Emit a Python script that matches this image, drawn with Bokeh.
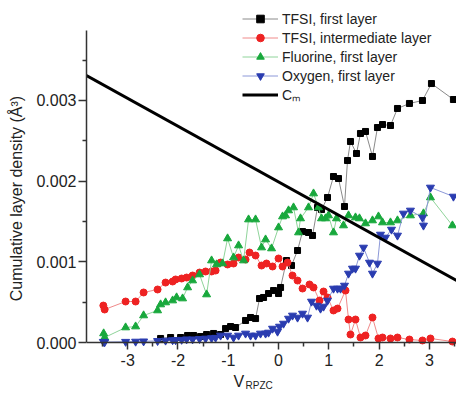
from bokeh.plotting import figure
from bokeh.models import Range1d, FixedTicker, Legend, LegendItem, Label, NumeralTickFormatter
from bokeh.embed import file_html
from bokeh.resources import INLINE

# ---------- data (densities in units of 1e-3 A^-3) ----------
tfsi1_x = [-2.346, -2.147, -1.948, -1.809, -1.690, -1.551, -1.431, -1.292, -1.153, -1.054,
           -0.954, -0.855, -0.656, -0.557, -0.457, -0.378, -0.298, -0.199, -0.099, 0.000,
           0.040, 0.159, 0.258, 0.378, 0.477, 0.596, 0.676, 0.775, 0.855, 0.974,
           1.093, 1.193, 1.312, 1.372, 1.431, 1.551, 1.630, 1.730, 1.869, 1.968,
           2.068, 2.227, 2.366, 2.604, 2.863, 3.042, 3.479]
tfsi1_y = [0.050, 0.062, 0.062, 0.087, 0.087, 0.074, 0.099, 0.112, 0.099, 0.173,
           0.198, 0.186, 0.273, 0.310, 0.297, 0.545, 0.558, 0.607, 0.644, 0.607,
           0.682, 1.016, 0.954, 1.140, 1.375, 1.363, 1.326, 1.673, 1.648, 1.797,
           2.057, 2.032, 1.685, 2.255, 2.491, 2.342, 2.590, 2.615, 2.305, 2.664,
           2.701, 2.689, 2.900, 2.962, 2.999, 3.209, 3.011]

tfsi_int_x = [-3.485, -3.459, -3.042, -2.843, -2.684, -2.406, -2.247, -2.107, -2.048, -1.928,
              -1.829, -1.710, -1.571, -1.451, -1.332, -1.252, -1.153, -1.014, -0.895, -0.795,
              -0.656, -0.577, -0.457, -0.338, -0.239, -0.119, 0.000, 0.080, 0.179, 0.278,
              0.378, 0.477, 0.616, 0.696, 0.815, 0.895, 0.974, 1.093, 1.173, 1.332,
              1.392, 1.431, 1.531, 1.630, 1.730, 1.869, 1.988, 2.068, 2.227, 2.366,
              2.604, 2.863, 3.022, 3.459]
tfsi_int_y = [0.458, 0.409, 0.508, 0.508, 0.620, 0.657, 0.743, 0.756, 0.781, 0.793,
              0.805, 0.830, 0.867, 0.880, 0.880, 0.892, 0.991, 0.967, 0.979, 1.053,
              1.029, 1.115, 1.078, 0.954, 0.979, 0.942, 1.041, 0.942, 0.991, 0.830,
              0.768, 0.669, 0.719, 0.682, 0.520, 0.632, 0.558, 0.397, 0.421, 0.644,
              0.285, 0.099, 0.285, 0.062, 0.087, 0.310, 0.050, 0.062, 0.050, 0.062,
              0.037, 0.025, 0.050, 0.012]

fluor_x = [-3.479, -3.459, -3.042, -2.843, -2.684, -2.406, -2.346, -2.247, -2.107, -2.028,
           -1.909, -1.809, -1.710, -1.571, -1.431, -1.332, -1.233, -1.113, -1.014, -0.895,
           -0.795, -0.696, -0.596, -0.457, -0.338, -0.258, -0.139, 0.000, 0.080, 0.139,
           0.199, 0.298, 0.398, 0.437, 0.596, 0.696, 0.795, 0.855, 0.934, 0.994,
           1.093, 1.153, 1.292, 1.392, 1.531, 1.610, 1.730, 1.869, 1.988, 2.068,
           2.227, 2.366, 2.624, 2.883, 3.022, 3.459]
fluor_y = [0.112, 0.062, 0.186, 0.198, 0.335, 0.397, 0.471, 0.496, 0.520, 0.558,
           0.545, 0.682, 0.768, 0.843, 0.595, 1.016, 0.967, 0.979, 1.289, 1.053,
           1.202, 1.016, 1.524, 1.524, 1.177, 1.276, 1.165, 1.425, 1.561, 1.574,
           1.636, 1.673, 1.363, 1.537, 1.673, 1.846, 1.673, 1.537, 1.537, 1.574,
           1.363, 1.537, 1.450, 1.574, 1.549, 1.537, 1.475, 1.512, 1.561, 1.487,
           1.487, 1.512, 1.574, 1.599, 1.797, 1.450]

oxy_x = [-3.485, -3.459, -3.042, -2.843, -2.684, -2.406, -2.247, -2.107, -2.048, -1.928,
         -1.829, -1.710, -1.571, -1.451, -1.332, -1.252, -1.153, -1.014, -0.895, -0.795,
         -0.656, -0.557, -0.457, -0.358, -0.258, -0.199, -0.119, -0.020, 0.020, 0.099,
         0.199, 0.278, 0.378, 0.477, 0.577, 0.656, 0.755, 0.835, 0.895, 0.974,
         1.093, 1.173, 1.233, 1.312, 1.392, 1.471, 1.531, 1.610, 1.690, 1.809,
         1.869, 1.968, 2.028, 2.127, 2.247, 2.366, 2.485, 2.624, 2.863, 2.883,
         3.022, 3.479]
oxy_y = [0.010, 0.005, 0.010, 0.012, 0.015, 0.020, 0.025, 0.030, 0.030, 0.035,
         0.040, 0.040, 0.045, 0.050, 0.055, 0.060, 0.087, 0.087, 0.062, 0.087,
         0.112, 0.087, 0.087, 0.112, 0.112, 0.124, 0.173, 0.136, 0.198, 0.235,
         0.297, 0.335, 0.310, 0.359, 0.310, 0.508, 0.458, 0.421, 0.446, 0.520,
         0.669, 0.669, 0.669, 0.706, 0.855, 0.917, 0.917, 1.078, 1.177, 0.991,
         0.855, 0.979, 1.338, 1.301, 1.400, 1.326, 1.599, 1.636, 1.549, 1.450,
         1.921, 1.809]

cm_x = [-3.82, 3.54]
cm_y = [3.309, 0.768]

x_ticks = [-3, -2, -1, 0, 1, 2, 3]
x_tick_labels = ["-3", "-2", "-1", "0", "1", "2", "3"]
x_minor = [-3.5, -2.5, -1.5, -0.5, 0.5, 1.5, 2.5, 3.5]
y_ticks = [0.0, 0.001, 0.002, 0.003]
y_minor = [0.0005, 0.0015, 0.0025, 0.0035]

S = 1e-3
FONT = "Liberation Sans"
TXT = "#222222"

# frame spans the whole figure height; x axis pinned at y=0, y axis bounded
p = figure(width=456, height=396, output_backend="svg", toolbar_location=None,
           x_range=Range1d(-3.82, 3.54), y_range=Range1d(-0.000669, 0.004238),
           min_border_left=86, min_border_right=0, min_border_top=0, min_border_bottom=0)
p.outline_line_color = None
p.xgrid.visible = False
p.ygrid.visible = False
p.background_fill_color = "white"
p.border_fill_color = "white"

for ax in (p.xaxis[0], p.yaxis[0]):
    ax.axis_line_color = "#333333"
    ax.axis_line_width = 1.5
    ax.major_tick_line_color = "#333333"
    ax.minor_tick_line_color = "#333333"
    ax.major_tick_line_width = 1.5
    ax.minor_tick_line_width = 1.5
    ax.major_tick_in = 0
    ax.minor_tick_in = 0
    ax.major_label_text_font = FONT
    ax.major_label_text_font_size = "16px"
    ax.major_label_text_color = TXT

xa = p.xaxis[0]
xa.fixed_location = 0
xa.ticker = FixedTicker(ticks=x_ticks, minor_ticks=x_minor)
xa.major_label_overrides = {t: s for t, s in zip(x_ticks, x_tick_labels)}
xa.major_tick_out = 7
xa.minor_tick_out = 4
xa.major_label_standoff = 4

ya = p.yaxis[0]
ya.bounds = (0, 0.00387)
ya.ticker = FixedTicker(ticks=y_ticks, minor_ticks=y_minor)
ya.formatter = NumeralTickFormatter(format="0.000")
ya.major_tick_out = 8
ya.minor_tick_out = 4
ya.major_label_standoff = 2
ya.axis_label = "Cumulative layer density (Å³)"
ya.axis_label_text_font = FONT
ya.axis_label_text_font_size = "16px"
ya.axis_label_text_font_style = "normal"
ya.axis_label_text_color = TXT
ya.axis_label_standoff = 8

def sc(v):
    return [a * S for a in v]

l1 = p.line(tfsi1_x, sc(tfsi1_y), line_color="#8a8a8a", line_width=1)
m1 = p.scatter(tfsi1_x, sc(tfsi1_y), marker="square", size=6, color="black")
l2 = p.line(tfsi_int_x, sc(tfsi_int_y), line_color="#f08a8a", line_width=1)
m2 = p.scatter(tfsi_int_x, sc(tfsi_int_y), marker="circle", size=7, color="#ee2222")
l3 = p.line(fluor_x, sc(fluor_y), line_color="#8fd49a", line_width=1)
m3 = p.scatter(fluor_x, sc(fluor_y), marker="triangle", size=8, color="#18a83c")
l4 = p.line(oxy_x, sc(oxy_y), line_color="#8c98d8", line_width=1)
m4 = p.scatter(oxy_x, sc(oxy_y), marker="inverted_triangle", size=8, color="#2a3cb0")
l5 = p.line(cm_x, sc(cm_y), line_color="black", line_width=3)

legend = Legend(items=[
    LegendItem(label="TFSI, first layer", renderers=[l1, m1]),
    LegendItem(label="TFSI, intermediate layer", renderers=[l2, m2]),
    LegendItem(label="Fluorine, first layer", renderers=[l3, m3]),
    LegendItem(label="Oxygen, first layer", renderers=[l4, m4]),
    LegendItem(label="Cₘ", renderers=[l5]),
], location=(156, 292))
legend.label_text_font = FONT
legend.label_text_font_size = "14px"
legend.label_text_color = TXT
legend.glyph_width = 36
legend.glyph_height = 19
legend.label_height = 19
legend.label_standoff = 4
legend.spacing = 0
legend.padding = 0
legend.margin = 0
legend.background_fill_alpha = 0
legend.border_line_alpha = 0
p.add_layout(legend)

p.add_layout(Label(x=-0.895, y=-0.000483, text="V", text_font=FONT, text_font_size="16px",
                   text_color=TXT, text_baseline="middle", text_align="left"))
p.add_layout(Label(x=-0.656, y=-0.000533, text="RPZC", text_font=FONT, text_font_size="10px",
                   text_color=TXT, text_baseline="middle", text_align="left"))

open("out.html", "w").write(file_html(p, INLINE))
